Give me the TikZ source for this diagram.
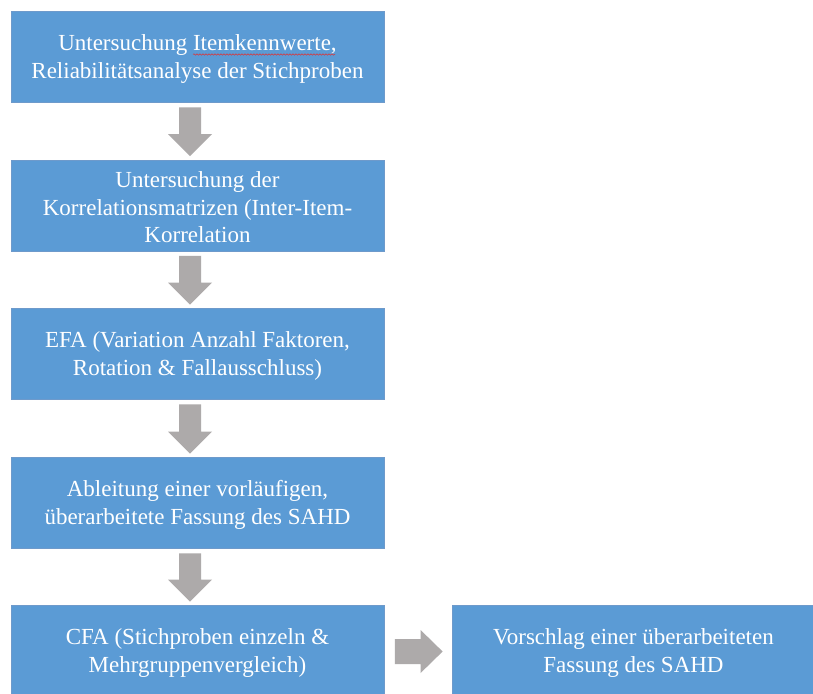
\documentclass[tikz,border=0pt]{standalone}
\usepackage{fontspec}
\setmainfont{Liberation Serif}
\usetikzlibrary{calc,decorations.pathmorphing}
\definecolor{boxblue}{HTML}{5B9BD5}
\definecolor{boxedge}{HTML}{6E9ACB}
\definecolor{arrowgray}{HTML}{ADAAAA}
\definecolor{spellred}{HTML}{E03030}
\tikzset{
  stepbox/.style={rectangle, fill=boxblue, draw=boxedge, line width=0.8pt,
    minimum width=373pt, minimum height=91pt, inner sep=0pt},
  steptext/.style={align=center, text=white, inner sep=0pt,
    font=\fontsize{23}{27.5}\selectfont},
  blockarrow/.style={fill=arrowgray, draw=none}
}
% gray block arrow pointing down from the bottom of #1 to the top of #2
\newcommand{\downblock}[3]{%
  \path ($(#1.south)+(-7.5,4.5)$) coordinate (#3-top)
        ($(#2.north)+(-7.5,-3.5)$) coordinate (#3-tip);
  \fill[blockarrow] let \p1=(#3-top), \p2=(#3-tip) in
    (\x1-11pt,\y1) -- (\x1+11pt,\y1) -- (\x1+11pt,\y2+22pt) -- (\x1+22pt,\y2+22pt)
    -- (\x2,\y2) -- (\x1-22pt,\y2+22pt) -- (\x1-11pt,\y2+22pt) -- cycle;
}
% gray block arrow pointing right from #1 to #2
\newcommand{\rightblock}[3]{%
  \path ($(#1.east)+(10.5,0.5)$) coordinate (#3-top)
        ($(#2.west)+(-9.5,0.5)$) coordinate (#3-tip);
  \fill[blockarrow] let \p1=(#3-top), \p2=(#3-tip) in
    (\x1,\y1+12.5pt) -- (\x2-22pt,\y1+12.5pt) -- (\x2-22pt,\y1+21.5pt) -- (\x2,\y2)
    -- (\x2-22pt,\y1-21.5pt) -- (\x2-22pt,\y1-12.5pt) -- (\x1,\y1-12.5pt) -- cycle;
}
\begin{document}
\begin{tikzpicture}[x=1pt,y=-1pt]
\useasboundingbox (0,0) rectangle (813,693);
\fill[white] (0,0) rectangle (813,693);

\node[stepbox] (b1) at (197.5,57) {};
\node[stepbox] (b2) at (197.5,205.5) {};
\node[stepbox] (b3) at (197.5,354) {};
\node[stepbox] (b4) at (197.5,503) {};
\node[stepbox] (b5) at (197.5,651) {};
\node[stepbox, minimum width=362pt] (b6) at (633.5,651) {};

\node[steptext] (t1) at ($(b1.center)+(0,2)$) {Untersuchung Itemkennwerte,\\Reliabilitätsanalyse der Stichproben};
\node[steptext] (t2) at ($(b2.center)+(0,2)$) {Untersuchung der\\Korrelationsmatrizen (Inter-Item-\\Korrelation};
\node[steptext] (t3) at ($(b3.center)+(0,2)$) {EFA (Variation Anzahl Faktoren,\\Rotation \& Fallausschluss)};
\node[steptext] (t4) at ($(b4.center)+(0,2)$) {Ableitung einer vorläufigen,\\überarbeitete Fassung des SAHD};
\node[steptext] (t5) at ($(b5.center)+(0,2)$) {CFA (Stichproben einzeln \&\\Mehrgruppenvergleich)};
\node[steptext] (t6) at ($(b6.center)+(0,2)$) {Vorschlag einer überarbeiteten\\Fassung des SAHD};

% spell-check underline below "Itemkennwerte"
\draw[spellred, line width=0.5pt, decorate,
  decoration={snake, amplitude=0.7pt, segment length=3pt}]
  ($(b1.center)+(-4.5,-2.5)$) coordinate (sq1) -- ($(b1.center)+(137.5,-2.5)$) coordinate (sq2);

% block arrows between the steps
\downblock{b1}{b2}{a1}
\downblock{b2}{b3}{a2}
\downblock{b3}{b4}{a3}
\downblock{b4}{b5}{a4}
\rightblock{b5}{b6}{a5}
\end{tikzpicture}
\end{document}
